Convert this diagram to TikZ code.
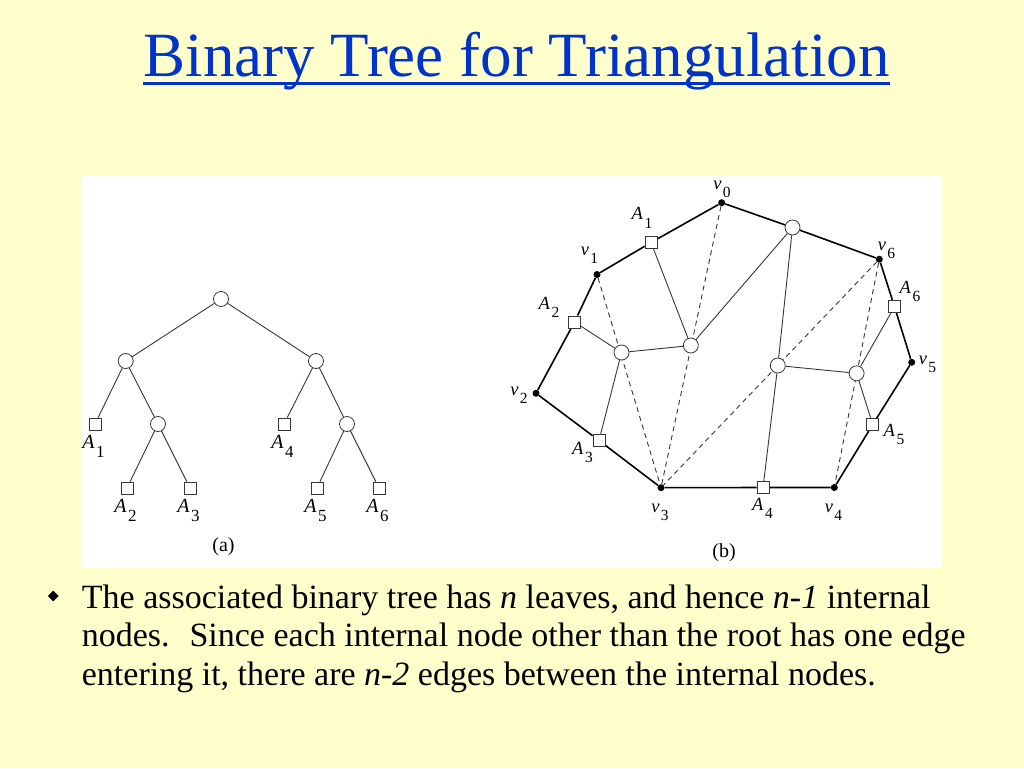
\documentclass[tikz,border=0pt]{standalone}
\usepackage{fontspec}
\setmainfont{Liberation Serif}
\usetikzlibrary{shapes.geometric,backgrounds,positioning}
\definecolor{slidebg}{RGB}{255,255,204}
\definecolor{titleblue}{RGB}{0,51,204}
\definecolor{edgegray}{RGB}{55,55,55}
\newcommand{\subfont}{}
\newcommand{\lab}[2]{\textit{#1}\kern1.5pt\raisebox{-0.45em}{\subfont #2}}

\begin{document}
\begin{tikzpicture}[x=1pt, y=-1pt,
    inode/.style={draw=edgegray, circle, fill=white, minimum size=15pt, inner sep=0pt, line width=0.8pt},
    leaf/.style={draw=edgegray, rectangle, fill=white, minimum size=12pt, inner sep=0pt, line width=0.8pt},
    vert/.style={circle, fill=black, minimum size=7pt, inner sep=0pt},
    lbla/.style={inner sep=0pt, font={\fontsize{20}{20}\selectfont\def\subfont{\fontsize{17}{17}\selectfont}}},
    lblb/.style={inner sep=0pt, font={\fontsize{18.5}{18.5}\selectfont\def\subfont{\fontsize{15.5}{15.5}\selectfont}}},
    treeedge/.style={edgegray, line width=0.9pt},
    polyedge/.style={black, line width=1.6pt},
    diag/.style={edgegray, line width=0.9pt, dash pattern=on 5pt off 4pt},
    bodytext/.style={inner sep=0pt, anchor=base west, font=\fontsize{34}{38}\selectfont}
]

% Background and figure panel
\begin{pgfonlayer}{background}
\fill[slidebg] (0,0) rectangle (1024,768);
\fill[white] (81,175) rectangle (942,568);
\end{pgfonlayer}

% Title
\node[font=\fontsize{63}{63}\selectfont, text=titleblue, inner sep=0pt, anchor=base] (title) at (516.5,76.7) {Binary Tree for Triangulation};
\draw[titleblue, line width=2.7pt] ([yshift=-6.6pt]title.base west) -- ([yshift=-6.6pt]title.base east);

% Tree (a)
\node[inode] (troot) at (221,299) {};
\node[inode] (tl) at (125.7,361) {};
\node[inode] (tr) at (316,361) {};
\node[inode] (tlr) at (158,424) {};
\node[inode] (trr) at (347,424) {};
\node[leaf] (ta1) at (95,424) {};
\node[leaf] (ta2) at (127,488) {};
\node[leaf] (ta3) at (190,488) {};
\node[leaf] (ta4) at (284,424) {};
\node[leaf] (ta5) at (317,488) {};
\node[leaf] (ta6) at (379,488) {};

\node[lbla, below=4.5pt of ta1, xshift=-1.5pt] (lta1) {\lab{A}{1}};
\node[lbla, below=4.5pt of ta2, xshift=-1.5pt] (lta2) {\lab{A}{2}};
\node[lbla, below=4.5pt of ta3, xshift=-1.5pt] (lta3) {\lab{A}{3}};
\node[lbla, below=4.5pt of ta4, xshift=-1.5pt] (lta4) {\lab{A}{4}};
\node[lbla, below=4.5pt of ta5, xshift=-1.5pt] (lta5) {\lab{A}{5}};
\node[lbla, below=4.5pt of ta6, xshift=-1.5pt] (lta6) {\lab{A}{6}};

\node[font=\fontsize{20}{20}\selectfont, inner sep=0pt] (capa) at (223.5,547) {(a)};

\begin{pgfonlayer}{background}
\draw[treeedge] (troot) -- (tl);
\draw[treeedge] (troot) -- (tr);
\draw[treeedge] (tl) -- (ta1);
\draw[treeedge] (tl) -- (tlr);
\draw[treeedge] (tlr) -- (ta2);
\draw[treeedge] (tlr) -- (ta3);
\draw[treeedge] (tr) -- (ta4);
\draw[treeedge] (tr) -- (trr);
\draw[treeedge] (trr) -- (ta5);
\draw[treeedge] (trr) -- (ta6);
\end{pgfonlayer}

% Polygon (b)
\node[vert] (v0) at (721.7,202.7) {};
\node[vert] (v1) at (597,274.5) {};
\node[vert] (v2) at (536,393.3) {};
\node[vert] (v3) at (661,487.7) {};
\node[vert] (v4) at (834.3,487.5) {};
\node[vert] (v5) at (911.7,362.3) {};
\node[vert] (v6) at (879.3,259.2) {};

\node[leaf] (sa1) at (651,242.5) {};
\node[leaf] (sa2) at (574.5,322) {};
\node[leaf] (sa3) at (599,440.5) {};
\node[leaf] (sa4) at (763,487.5) {};
\node[leaf] (sa5) at (872.7,424.5) {};
\node[leaf] (sa6) at (894.5,306.7) {};

\node[inode] (croot) at (792.5,227.5) {};
\node[inode] (c1) at (621.5,352.5) {};
\node[inode] (c2) at (690.8,345.5) {};
\node[inode] (c3) at (777.8,365.5) {};
\node[inode] (c4) at (856.6,373.3) {};

\node[lblb] (lv0) at (722,189) {\lab{v}{0}};
\node[lblb] (lv1) at (589.5,255) {\lab{v}{1}};
\node[lblb] (lv2) at (519,395) {\lab{v}{2}};
\node[lblb] (lv3) at (660,512) {\lab{v}{3}};
\node[lblb] (lv4) at (833.5,512) {\lab{v}{4}};
\node[lblb] (lv5) at (927.5,364.5) {\lab{v}{5}};
\node[lblb] (lv6) at (886.5,250) {\lab{v}{6}};
\node[lblb] (lsa1) at (642,218) {\lab{A}{1}};
\node[lblb] (lsa2) at (549,307.5) {\lab{A}{2}};
\node[lblb] (lsa3) at (582.5,452.5) {\lab{A}{3}};
\node[lblb] (lsa4) at (762.5,508.5) {\lab{A}{4}};
\node[lblb] (lsa5) at (894,434.5) {\lab{A}{5}};
\node[lblb] (lsa6) at (910,291.5) {\lab{A}{6}};

\node[font=\fontsize{20}{20}\selectfont, inner sep=0pt] (capb) at (724,553) {(b)};

\begin{pgfonlayer}{background}
% polygon sides
\draw[polyedge] (v0) -- (sa1) -- (v1) -- (sa2) -- (v2) -- (sa3) -- (v3) -- (sa4) -- (v4)
    -- (sa5) -- (v5) -- (sa6) -- (v6) -- (croot) -- (v0);
% diagonals
\draw[diag] (v1) -- (v3);
\draw[diag] (v0) -- (v3);
\draw[diag] (v6) -- (v3);
\draw[diag] (v6) -- (v4);
% tree edges
\draw[treeedge] (croot) -- (c2);
\draw[treeedge] (croot) -- (c3);
\draw[treeedge] (c2) -- (sa1);
\draw[treeedge] (c2) -- (c1);
\draw[treeedge] (c1) -- (sa2);
\draw[treeedge] (c1) -- (sa3);
\draw[treeedge] (c3) -- (sa4);
\draw[treeedge] (c3) -- (c4);
\draw[treeedge] (c4) -- (sa6);
\draw[treeedge] (c4) -- (sa5);
\end{pgfonlayer}

% Bullet text
\node[diamond, fill=black, minimum size=11pt, inner sep=0pt] (bullet) at (53.3,596) {};
\node[bodytext] (line1) at (81.7,608.3) {The associated binary tree has \textit{n} leaves, and hence \textit{n-1} internal};
\node[bodytext] (line2) at (81.7,646.7) {nodes.~ Since each internal node other than the root has one edge};
\node[bodytext] (line3) at (81.7,685) {entering it, there are \textit{n-2} edges between the internal nodes.};

\end{tikzpicture}
\end{document}
